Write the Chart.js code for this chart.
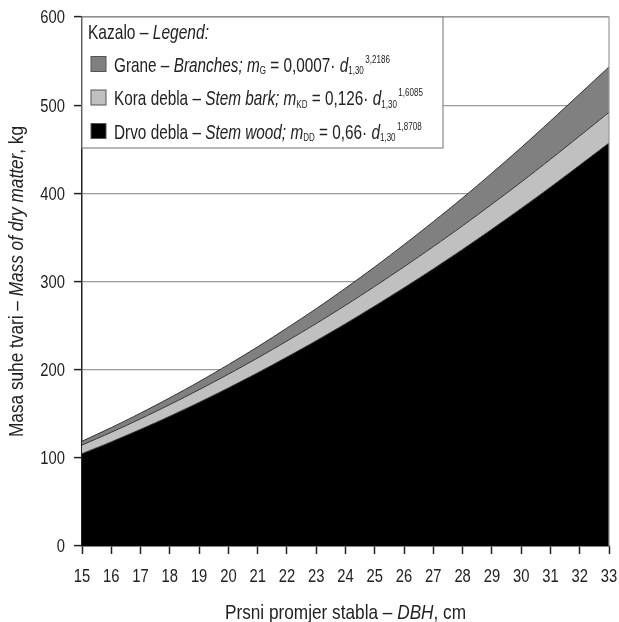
<!DOCTYPE html>
<html>
<head>
<meta charset="utf-8">
<script src="https://cdn.jsdelivr.net/npm/chart.js@4.4.0/dist/chart.umd.min.js"></script>
<style>
  body { margin: 0; background: #fff; }
  #wrap { width: 619px; height: 622px; }
</style>
</head>
<body>
<div id="wrap"><canvas id="c"></canvas></div>
<script>
// Masa suhe tvari po prsnom promjeru - podaci očitani s grafa
const dbh = [15, 16, 17, 18, 19, 20, 21, 22, 23, 24, 25, 26, 27, 28, 29, 30, 31, 32, 33];
const stemWood = [104.7, 118.1, 132.3, 147.2, 162.9, 179.3, 196.4, 214.3, 232.8, 252.1, 272.2, 292.9, 314.3, 336.4, 359.3, 382.8, 407.0, 431.9, 457.0];
const stemBark = [9.8, 10.9, 12.0, 13.2, 14.4, 15.6, 16.9, 18.2, 19.5, 20.9, 22.3, 23.8, 25.3, 26.8, 28.4, 29.9, 31.6, 33.2, 34.9];
const branches = [4.3, 5.3, 6.4, 7.7, 9.1, 10.8, 12.6, 14.7, 16.9, 19.4, 22.1, 25.1, 28.3, 31.6, 35.2, 39.2, 43.4, 47.6, 51.5];
const yTicks = [0, 100, 200, 300, 400, 500, 600];

const FONT = '"Liberation Sans", Arial, sans-serif';
const INK = '#222';

// legend rows: text runs (i = italic, s = sub/sup)
const legendTitle = [{ t: 'Kazalo – ' }, { t: 'Legend:', i: true }];
const legendRows = [
  { color: '#808080', runs: [{ t: 'Grane – ' }, { t: 'Branches; m', i: true }, { t: 'G', s: 'sub' }, { t: ' = 0,0007· ' }, { t: 'd', i: true }, { t: '1,30', s: 'sub' }, { t: '3,2186', s: 'sup' }] },
  { color: '#c0c0c0', runs: [{ t: 'Kora debla – ' }, { t: 'Stem bark; m', i: true }, { t: 'KD', s: 'sub' }, { t: ' = 0,126· ' }, { t: 'd', i: true }, { t: '1,30', s: 'sub' }, { t: '1,6085', s: 'sup' }] },
  { color: '#000000', runs: [{ t: 'Drvo debla – ' }, { t: 'Stem wood; m', i: true }, { t: 'DD', s: 'sub' }, { t: ' = 0,66· ' }, { t: 'd', i: true }, { t: '1,30', s: 'sub' }, { t: '1,8708', s: 'sup' }] }
];
const xTitle = [{ t: 'Prsni promjer stabla – ' }, { t: 'DBH', i: true }, { t: ', cm' }];
const yTitle = [{ t: 'Masa suhe tvari – ' }, { t: 'Mass of dry matter', i: true }, { t: ', kg' }];

function runFont(r, size) {
  const sz = r.s ? Math.round(size * 0.52) : size;
  return (r.i ? 'italic ' : '') + sz + 'px ' + FONT;
}

function runsWidth(ctx, runs, size, sx) {
  let w = 0;
  runs.forEach(r => {
    ctx.font = runFont(r, size);
    w += ctx.measureText(r.t).width + (r.s === 'sup' ? 2 : 0);
  });
  return w * sx;
}

// draws runs with left edge at x, baseline at y, squeezed horizontally by sx
function drawRuns(ctx, runs, x, y, size, sx) {
  ctx.save();
  ctx.translate(x, y);
  ctx.scale(sx, 1);
  ctx.textBaseline = 'alphabetic';
  ctx.textAlign = 'left';
  let cx = 0;
  runs.forEach(r => {
    ctx.font = runFont(r, size);
    let dy = 0;
    if (r.s === 'sub') dy = size * 0.12;
    if (r.s === 'sup') { dy = -size * 0.42; cx += 2; }
    ctx.fillText(r.t, cx, dy);
    cx += ctx.measureText(r.t).width;
  });
  ctx.restore();
}

function drawLabel(ctx, text, x, y, size, align) {
  const runs = [{ t: text }];
  const w = runsWidth(ctx, runs, size, 0.82);
  const left = align === 'right' ? x - w : x - w / 2;
  drawRuns(ctx, runs, left, y + size * 0.36, size, 0.82);
}

const decor = {
  id: 'decor',
  afterDraw(chart) {
    const ctx = chart.ctx, a = chart.chartArea;
    const xs = chart.scales.x, ys = chart.scales.y;
    ctx.save();
    // gray frame top/right
    ctx.strokeStyle = '#999';
    ctx.lineWidth = 1.2;
    ctx.beginPath();
    ctx.moveTo(a.left, a.top); ctx.lineTo(a.right, a.top); ctx.lineTo(a.right, a.bottom);
    ctx.stroke();

    // tick labels
    ctx.fillStyle = INK;
    yTicks.forEach(v => drawLabel(ctx, String(v), 65, ys.getPixelForValue(v), 18, 'right'));
    dbh.forEach((d, k) => drawLabel(ctx, String(d), xs.getPixelForValue(k), 576, 18, 'center'));

    // legend box
    const lx = a.left, ly = a.top, lw = 361, lh = 131;
    ctx.fillStyle = '#fff';
    ctx.fillRect(lx, ly, lw, lh);
    ctx.strokeStyle = '#888';
    ctx.lineWidth = 1.2;
    ctx.strokeRect(lx, ly, lw, lh);
    ctx.fillStyle = INK;
    drawRuns(ctx, legendTitle, lx + 6, ly + 22, 21, 0.74);
    legendRows.forEach((row, k) => {
      const cy = ly + 47 + k * 33.5;
      ctx.fillStyle = row.color;
      ctx.fillRect(lx + 9, cy - 7.5, 15, 15);
      ctx.strokeStyle = '#555';
      ctx.lineWidth = 1;
      ctx.strokeRect(lx + 9, cy - 7.5, 15, 15);
      ctx.fillStyle = INK;
      drawRuns(ctx, row.runs, lx + 32, cy + 7.5, 21, 0.73);
    });

    // axis titles
    ctx.fillStyle = INK;
    const xw = runsWidth(ctx, xTitle, 21, 0.82);
    drawRuns(ctx, xTitle, (a.left + a.right) / 2 - xw / 2, 619, 21, 0.82);
    const yw = runsWidth(ctx, yTitle, 21, 0.82);
    ctx.translate(23, (a.top + a.bottom) / 2);
    ctx.rotate(-Math.PI / 2);
    drawRuns(ctx, yTitle, -yw / 2, 0, 21, 0.82);
    ctx.restore();
  }
};

Chart.defaults.font.family = FONT;
Chart.defaults.color = INK;

new Chart(document.getElementById('c'), {
  type: 'line',
  data: {
    labels: dbh,
    datasets: [
      { label: 'Drvo debla', data: stemWood, backgroundColor: '#000000', borderColor: '#333', borderWidth: 1, fill: 'origin', pointRadius: 0, tension: 0.3 },
      { label: 'Kora debla', data: stemBark, backgroundColor: '#c0c0c0', borderColor: '#333', borderWidth: 1, fill: '-1', pointRadius: 0, tension: 0.3 },
      { label: 'Grane', data: branches, backgroundColor: '#808080', borderColor: '#333', borderWidth: 1, fill: '-1', pointRadius: 0, tension: 0.3 }
    ]
  },
  options: {
    responsive: true,
    maintainAspectRatio: false,
    animation: false,
    layout: { padding: { left: 0, right: 10, top: 17, bottom: 0 } },
    plugins: { legend: { display: false }, tooltip: { enabled: false } },
    scales: {
      x: {
        type: 'category',
        offset: false,
        grid: { display: true, drawOnChartArea: false, drawTicks: true, tickLength: 8, tickColor: INK, tickWidth: 1.5 },
        border: { display: true, color: INK, width: 1.5 },
        ticks: { display: false, autoSkip: false },
        afterFit(s) { s.height = 76; }
      },
      y: {
        stacked: true,
        min: 0,
        max: 600,
        afterBuildTicks(s) { s.ticks = yTicks.map(v => ({ value: v })); },
        grid: { color: '#9a9a9a', lineWidth: 1.2, drawTicks: true, tickLength: 8, tickColor: INK, tickWidth: 1.5 },
        border: { display: true, color: INK, width: 1.5 },
        ticks: { display: false },
        afterFit(s) { s.width = 82; }
      }
    }
  },
  plugins: [decor]
});
</script>
</body>
</html>
